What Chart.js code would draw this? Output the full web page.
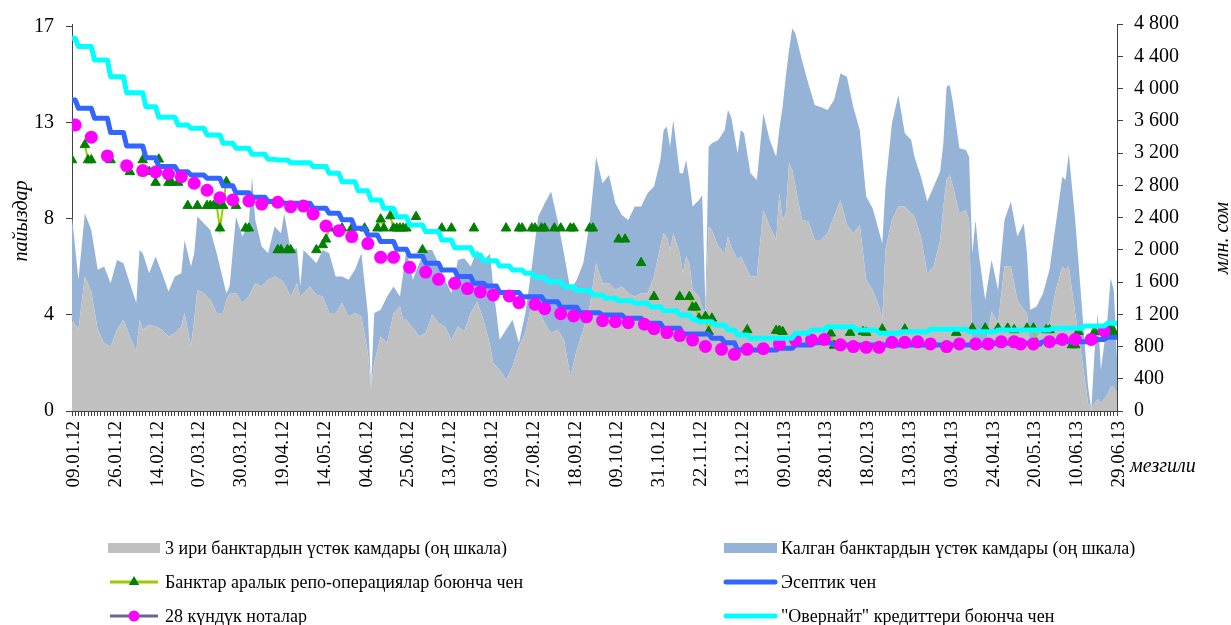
<!DOCTYPE html>
<html><head><meta charset="utf-8">
<script src="https://cdn.jsdelivr.net/npm/chart.js@4.4.1/dist/chart.umd.min.js"></script>
<style>html,body{margin:0;padding:0;background:#fff;}canvas{display:block;}</style>
</head><body>
<canvas id="c" width="1231" height="625"></canvas>
<script>
// ---- tick labels ----
const dateLabels = ['09.01.12','26.01.12','14.02.12','07.03.12','30.03.12','19.04.12','14.05.12','04.06.12','25.06.12','13.07.12','03.08.12','27.08.12','18.09.12','09.10.12','31.10.12','22.11.12','13.12.12','09.01.13','28.01.13','18.02.13','13.03.13','03.04.13','24.04.13','20.05.13','10.06.13','29.06.13'];
const leftTickValues = [0, 4.25, 8.5, 12.75, 17];
const leftTickLabels = ['0','4','8','13','17'];
const rightTickValues = [0,400,800,1200,1600,2000,2400,2800,3200,3600,4000,4400,4800];
const rightTickLabels = ['0','400','800','1 200','1 600','2 000','2 400','2 800','3 200','3 600','4 000','4 400','4 800'];
const axisTitles = { left: 'пайыздар', right: 'млн. сом', x: 'мезгили' };
const legendLabels = [
  '3 ири банктардын үстөк камдары (оң шкала)',
  'Калган банктардын үстөк камдары (оң шкала)',
  'Банктар аралык репо-операциялар боюнча чен',
  'Эсептик чен',
  '28 күндүк ноталар',
  '"Овернайт" кредиттери боюнча чен'
];

// ---- excess reserves (right axis, mln som), by observation index ----
const areaIdx = [
 0,2,4,6,8,10,12,14,16,18,
 20,21,22,24,26,28,30,32,34,35,
 37,38,39,41,43,45,47,48,49,51,
 53,55,56,57,59,61,63,65,66,68,
 70,71,72,74,76,78,80,82,84,86,
 88,90,92,93,94,96,98,100,102,103,
 104,106,108,110,112,114,116,118,120,122,
 124,126,128,130,131,133,135,137,139,141,
 143,145,147,149,151,153,155,157,159,161,
 163,165,167,169,171,173,175,177,179,181,
 183,184,185,186,187,189,190,191,192,193,
 195,196,197,198,199,201,203,204,205,207,
 208,209,211,213,215,217,219,220,221,222,
 223,224,225,227,229,231,233,235,237,239,
 241,243,245,247,249,251,252,253,255,257,
 259,261,262,264,266,268,270,271,272,273,
 274,276,278,279,280,281,282,284,286,288,
 290,292,294,296,297,298,300,302,304,306,
 308,309,310,312,314,316,317,318,319,320,
 322,323,324,325];
const bigBanks = [
 1131,1007,1668,1482,1007,842,801,1007,1131,925,
 739,1131,1007,1069,1048,1007,925,966,1048,1214,
 801,1131,1503,1461,1379,1214,1214,1380,1450,1461,
 1338,1420,1503,1585,1544,1627,1668,1627,1585,1420,
 1585,1420,1461,1544,1441,1420,1214,1214,1338,1172,
 1214,1172,718,290,594,925,842,1214,1296,1131,
 1131,1028,925,966,1193,1090,1048,883,1048,987,
 1214,1358,1131,820,594,511,388,553,801,966,
 1338,1255,1090,966,1007,883,429,759,1007,1296,
 1833,1585,1585,1503,1544,1461,1420,1461,1461,1668,
 2040,2205,2164,1998,2205,1957,1709,1916,1833,1503,
 1420,1276,1214,2287,2246,2040,1957,2164,2040,1874,
 1916,1833,1668,1668,2494,2287,2122,2700,2370,2453,
 3072,2990,2783,2370,2349,2122,2122,2205,2411,2618,
 2308,2205,2308,1627,1503,1296,1131,1998,2370,2535,
 2535,2453,2411,2164,1709,1792,2122,2535,2866,2928,
 2783,2453,2494,2370,718,883,759,801,1234,1090,
 1792,1792,1379,1255,1214,780,904,1007,1090,1503,
 1792,1751,1792,1214,677,99,10,100,150,100,
 200,300,300,200];
const otherBanks = [
 1280,620,785,764,744,950,784,867,702,660,
 599,867,950,640,868,702,557,702,661,908,
 991,826,908,868,867,743,413,81,94,950,
 826,909,1404,785,496,330,619,578,868,578,
 434,124,537,372,392,578,743,454,330,455,
 537,785,496,15,620,330,578,330,124,578,
 867,599,908,1032,805,743,579,578,826,908,
 578,640,743,1130,950,372,619,578,41,248,
 454,1156,1487,1755,1363,1074,1074,868,826,1033,
 1322,1239,1343,1074,888,909,1115,1074,1240,1115,
 1073,1280,1362,1281,1404,991,1239,1197,1033,1032,
 1198,1404,82,992,1074,1321,1528,1569,1610,1322,
 1569,1611,1280,1198,1198,1074,1033,800,1404,1693,
 1404,1755,1900,1982,1714,1673,1644,1528,1446,1569,
 1838,1561,1177,1032,1012,929,950,785,1198,1384,
 909,908,744,743,888,991,847,785,1156,1115,
 1033,805,743,785,1239,1487,1198,578,640,413,
 578,805,785,1074,743,475,392,454,661,826,
 1115,1115,1404,1156,661,206,6,618,1064,411,
 931,1350,1200,440];

// ---- rates (left axis, %): each level starts at the given index ----
const discountIdx = [0,2,7,12,17,23,27,33,37,42,47,51,56,61,66,75,80,84,88,92,96,101,105,110,115,120,125,129,133,140,147,152,158,165,172,178,184,190,199,203,207,220,225,231,237,286,302,319,322,325];
const discountRate = [13.77,13.40,12.96,12.33,11.73,11.21,10.82,10.59,10.45,10.30,9.97,9.66,9.46,9.27,9.20,8.97,8.75,8.46,8.09,7.79,7.50,7.16,6.86,6.54,6.24,5.95,5.65,5.53,5.24,5.06,4.84,4.59,4.35,4.25,4.10,3.88,3.66,3.41,3.22,3.02,2.70,2.78,2.92,3.02,2.92,3.00,3.07,3.17,3.26,3.26];

const overnightIdx = [0,2,7,12,17,23,27,33,37,42,47,51,56,61,64,68,75,80,84,89,93,97,101,105,110,115,119,125,128,133,137,141,144,148,153,157,162,166,170,175,180,184,189,193,195,200,204,207,211,225,230,235,244,251,258,267,279,288,305,315,322,325];
const overnightRate = [16.50,16.13,15.54,14.80,14.09,13.47,13.00,12.66,12.51,12.22,11.85,11.63,11.36,11.14,11.11,10.99,10.82,10.52,10.15,9.75,9.34,8.97,8.60,8.23,7.94,7.57,7.23,6.91,6.65,6.42,6.24,6.10,5.92,5.72,5.50,5.33,5.14,4.99,4.88,4.77,4.62,4.44,4.25,4.06,3.95,3.81,3.59,3.36,3.22,3.44,3.59,3.73,3.59,3.44,3.51,3.62,3.51,3.59,3.66,3.76,3.88,3.88];

const notesIdx = [1,6,11,17,22,26,30,34,38,42,46,50,55,59,64,68,72,75,79,83,87,92,96,100,105,110,114,119,123,127,131,136,139,144,147,152,156,160,165,169,173,178,181,185,189,193,197,202,206,210,215,220,225,230,234,239,243,247,251,255,259,263,267,272,276,281,285,289,293,295,299,304,308,312,317,321];
const notesRate = [12.66,12.12,11.29,10.86,10.64,10.58,10.49,10.37,10.08,9.77,9.44,9.34,9.30,9.16,9.24,9.04,9.07,8.72,8.19,7.98,7.72,7.41,6.80,6.80,6.36,6.15,5.83,5.65,5.42,5.27,5.14,5.09,4.80,4.72,4.53,4.31,4.21,4.17,4.00,3.95,3.91,3.84,3.64,3.47,3.34,3.14,2.86,2.73,2.51,2.73,2.76,2.97,3.14,3.14,3.17,2.93,2.85,2.82,2.82,3.04,3.04,3.06,2.97,2.85,2.97,2.97,2.97,3.06,3.06,2.97,2.97,3.07,3.17,3.17,3.17,3.55];

const repoIdx = [0,4,5,6,12,18,22,24,26,27,30,31,33,36,39,42,43,44,45,46,47,48,51,54,55,64,65,67,68,76,78,79,80,84,87,91,95,96,97,99,100,101,102,103,104,107,109,115,118,125,135,139,140,143,144,146,147,150,152,155,156,161,162,170,172,177,181,189,192,193,194,195,197,198,199,210,219,220,221,236,237,242,246,247,252,259,275,280,284,288,291,293,297,299,300,303,304,311,312,313,318,323,324];
const repoRate = [11.11,11.78,11.11,11.11,11.11,10.59,11.11,10.59,10.11,11.14,10.11,10.11,10.11,9.09,9.09,9.09,9.09,9.09,9.09,8.09,9.09,10.15,9.09,8.09,8.09,7.13,7.13,7.13,7.13,7.13,7.35,7.60,8.09,8.09,8.09,8.09,8.09,8.49,8.09,8.63,8.09,8.09,8.09,8.09,8.09,8.60,7.13,8.09,8.09,8.09,8.09,8.09,8.09,8.09,8.09,8.09,8.09,8.09,8.09,8.09,8.09,8.09,8.09,7.60,7.60,6.56,5.06,5.06,5.06,4.59,4.59,4.10,4.18,3.51,4.10,3.59,3.56,3.56,3.51,3.44,2.90,3.47,3.51,3.47,3.62,3.62,3.47,3.66,3.66,3.66,3.66,3.59,3.66,3.66,3.00,3.59,3.59,2.92,2.92,3.51,3.51,3.66,3.51];

// ---- build ----
const pts = (xs, ys) => xs.map((x, k) => ({ x: x, y: ys[k] }));
// a daily rate holds its level until the day before the next change
const levels = (xs, ys) => {
  const out = [];
  xs.forEach((x, k) => {
    out.push({ x: x, y: ys[k] });
    if (k < xs.length - 1 && xs[k + 1] - 1 > x) out.push({ x: xs[k + 1] - 1, y: ys[k] });
  });
  return out;
};
const LAST = (dateLabels.length - 1) * 13;
const SERIF = '"Liberation Serif", "Times New Roman", serif';

const COL = {
  gray: '#C0C0C0', lightBlue: '#95B3D7', repoLine: '#99CC00', repoMark: '#008000',
  discount: '#3366FF', notesLine: '#666699', notes: '#FF00FF', overnight: '#00FFFF', axis: '#404040'
};

const decor = {
  id: 'decor',
  afterDraw(chart) {
    const c = chart.ctx;
    c.save();
    c.fillStyle = '#000';
    c.textBaseline = 'middle';
    c.textAlign = 'center';
    c.font = 'italic 20px ' + SERIF;
    c.save(); c.translate(22, 221); c.rotate(-Math.PI / 2); c.fillText(axisTitles.left, 0, 0); c.restore();
    c.save(); c.translate(1223, 238); c.rotate(-Math.PI / 2); c.fillText(axisTitles.right, 0, 0); c.restore();
    c.textAlign = 'left';
    c.fillText(axisTitles.x, 1130, 467);

    const rows = [548, 582, 616];
    const cols = [{ x0: 108, x1: 160, tx: 165 }, { x0: 724, x1: 777, tx: 781 }];
    const kinds = ['rectGray', 'rectBlue', 'repo', 'discount', 'notes', 'overnight'];
    c.font = '18px ' + SERIF;
    kinds.forEach((k, n) => {
      const col = cols[n % 2], y = rows[Math.floor(n / 2)];
      const mid = (col.x0 + col.x1) / 2;
      c.save();
      if (k === 'rectGray' || k === 'rectBlue') {
        c.fillStyle = k === 'rectGray' ? COL.gray : COL.lightBlue;
        c.fillRect(col.x0, y - 5, col.x1 - col.x0, 10);
      } else {
        c.lineCap = (k === 'discount' || k === 'overnight') ? 'round' : 'butt';
        c.lineWidth = (k === 'discount' || k === 'overnight') ? 5 : 3;
        c.strokeStyle = k === 'repo' ? COL.repoLine : k === 'notes' ? COL.notesLine : k === 'discount' ? COL.discount : COL.overnight;
        c.beginPath(); c.moveTo(col.x0 + 2, y); c.lineTo(col.x1 - 2, y); c.stroke();
        if (k === 'repo') {
          c.fillStyle = COL.repoMark; c.beginPath();
          c.moveTo(mid, y - 6); c.lineTo(mid + 5.2, y + 3); c.lineTo(mid - 5.2, y + 3); c.closePath(); c.fill();
        }
        if (k === 'notes') {
          c.fillStyle = COL.notes; c.beginPath(); c.arc(mid, y, 5.5, 0, Math.PI * 2); c.fill();
        }
      }
      c.restore();
      c.fillStyle = '#000'; c.textAlign = 'left';
      c.fillText(legendLabels[n], col.tx, y + 1);
    });
    c.restore();
  }
};

new Chart(document.getElementById('c'), {
  type: 'line',
  data: {
    datasets: [
      { label: legendLabels[5], data: levels(overnightIdx, overnightRate), yAxisID: 'y', order: 1,
        borderColor: COL.overnight, borderWidth: 5, borderJoinStyle: 'round', pointRadius: 0, fill: false },
      { label: legendLabels[4], data: pts(notesIdx, notesRate), yAxisID: 'y', order: 2,
        showLine: false, pointRadius: 6.5, pointBackgroundColor: COL.notes, pointBorderWidth: 0, borderColor: COL.notesLine },
      { label: legendLabels[3], data: levels(discountIdx, discountRate), yAxisID: 'y', order: 3,
        borderColor: COL.discount, borderWidth: 5, borderJoinStyle: 'round', pointRadius: 0, fill: false },
      { label: legendLabels[2], data: pts(repoIdx, repoRate), yAxisID: 'y', order: 4,
        borderColor: COL.repoLine, borderWidth: 2, pointStyle: 'triangle', pointRadius: 5.5,
        pointBackgroundColor: COL.repoMark, pointBorderColor: COL.repoMark, pointBorderWidth: 1,
        segment: { borderColor: s => (s.p1.parsed.x - s.p0.parsed.x > 1.5) ? 'rgba(0,0,0,0)' : undefined } },
      { label: legendLabels[0], data: pts(areaIdx, bigBanks), yAxisID: 'y2', order: 5,
        backgroundColor: COL.gray, borderWidth: 0, pointRadius: 0, fill: 'origin' },
      { label: legendLabels[1], data: pts(areaIdx, otherBanks), yAxisID: 'y2', order: 6,
        backgroundColor: COL.lightBlue, borderWidth: 0, pointRadius: 0, fill: '-1' }
    ]
  },
  options: {
    responsive: false, animation: false, events: [],
    layout: { padding: { top: 24, left: 0, right: 0, bottom: 0 } },
    plugins: { legend: { display: false }, tooltip: { enabled: false } },
    scales: {
      x: {
        type: 'linear', min: 0, max: LAST, position: 'bottom',
        afterBuildTicks: s => { s.ticks = Array.from({ length: LAST + 1 }, (_, i) => ({ value: i })); },
        ticks: { autoSkip: false, maxRotation: 90, minRotation: 90, padding: 5, labelOffset: 2, color: '#000',
          font: { family: SERIF, size: 19 },
          callback: v => (v % 13 === 0 ? dateLabels[v / 13] : '') },
        grid: { drawOnChartArea: false, tickLength: 5, color: COL.axis, tickWidth: 1 },
        border: { display: true, color: COL.axis, width: 1 },
        afterFit: s => { s.height = 214; }
      },
      y: {
        position: 'left', min: 0, max: 17.13,
        afterBuildTicks: s => { s.ticks = leftTickValues.map(v => ({ value: v })); },
        ticks: { color: '#000', padding: 12, font: { family: SERIF, size: 20 },
          callback: (v, i) => leftTickLabels[i] },
        grid: { drawOnChartArea: false, tickLength: 6, color: COL.axis },
        border: { display: true, color: COL.axis, width: 1 },
        afterFit: s => { s.width = 72; }
      },
      y2: {
        position: 'right', min: 0, max: 4800, stacked: true,
        afterBuildTicks: s => { s.ticks = rightTickValues.map(v => ({ value: v })); },
        ticks: { color: '#000', padding: 11, font: { family: SERIF, size: 20 },
          callback: (v, i) => rightTickLabels[i] },
        grid: { drawOnChartArea: false, tickLength: 6, color: COL.axis },
        border: { display: true, color: COL.axis, width: 1 },
        afterFit: s => { s.width = 114; }
      }
    }
  },
  plugins: [decor]
});
</script>
</body></html>
